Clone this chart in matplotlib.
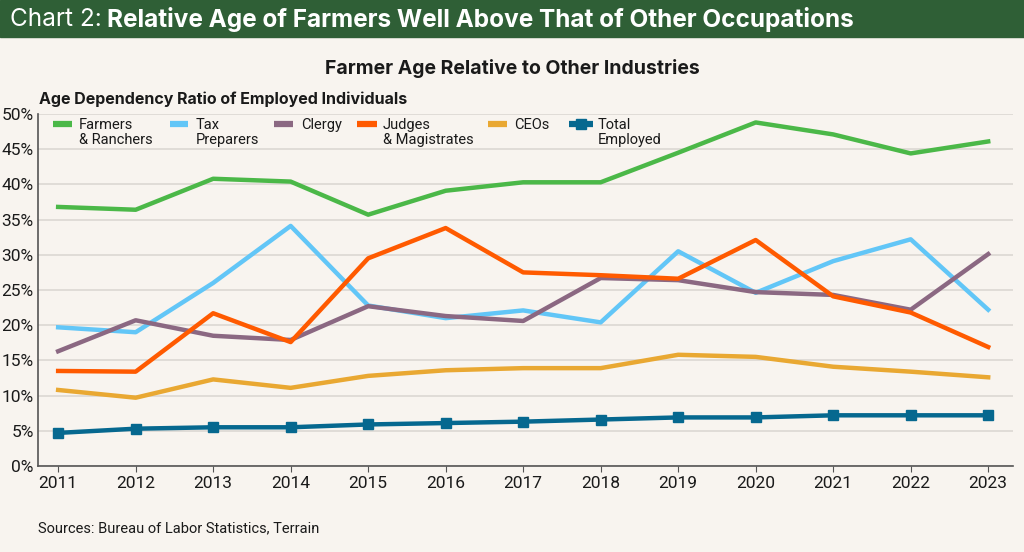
import matplotlib.pyplot as plt
from matplotlib.patches import Rectangle
from matplotlib.lines import Line2D
from matplotlib.ticker import FuncFormatter

plt.rcParams['font.family'] = ['Roboto', 'DejaVu Sans']

years = list(range(2011, 2024))
farmers = [36.8, 36.4, 40.8, 40.4, 35.7, 39.1, 40.3, 40.3, 44.5, 48.8, 47.1, 44.4, 46.1]
tax_preparers = [19.7, 19.0, 26.0, 34.1, 22.8, 21.0, 22.1, 20.4, 30.5, 24.6, 29.1, 32.2, 22.2]
clergy = [16.3, 20.7, 18.5, 17.9, 22.7, 21.3, 20.6, 26.7, 26.4, 24.7, 24.3, 22.2, 30.1]
judges = [13.5, 13.4, 21.7, 17.6, 29.5, 33.8, 27.5, 27.1, 26.6, 32.1, 24.1, 21.8, 16.9]
ceos = [10.8, 9.7, 12.3, 11.1, 12.8, 13.6, 13.9, 13.9, 15.8, 15.5, 14.1, 13.4, 12.6]
total = [4.7, 5.3, 5.5, 5.5, 5.9, 6.1, 6.3, 6.6, 6.9, 6.9, 7.2, 7.2, 7.2]

labels = ["Farmers\n& Ranchers", "Tax\nPreparers", "Clergy", "Judges\n& Magistrates",
          "CEOs", "Total\nEmployed"]
colors = ["#4bb848", "#62c6f7", "#8b6882", "#ff5a00", "#e9a832", "#06688f"]

W, H = 1024, 552
bg = "#f8f4ef"
ink = "#1a1a1a"
head_font = ["Inter", "DejaVu Sans"]
fig = plt.figure(figsize=(W / 100, H / 100), dpi=100, facecolor=bg)

# header band
fig.patches.append(Rectangle((0, 1 - 37 / H), 1, 37 / H, transform=fig.transFigure,
                             color="#2f5f36", zorder=0))
t1 = fig.text(10 / W, 1 - 19 / H, "Chart 2:", color="white", fontsize=17.5,
              va="center", family=head_font)
fig.canvas.draw()
x_end = t1.get_window_extent().x1 / W
fig.text(x_end + 5 / W, 1 - 19 / H,
         "Relative Age of Farmers Well Above That of Other Occupations",
         color="white", fontsize=17.5, fontweight="bold", va="center", family=head_font)

fig.text(0.5, 1 - 68 / H, "Farmer Age Relative to Other Industries",
         fontsize=14, fontweight="bold", ha="center", va="center", color=ink,
         family=head_font)
fig.text(39 / W, 1 - 99 / H, "Age Dependency Ratio of Employed Individuals",
         fontsize=11.5, fontweight="bold", ha="left", va="center", color=ink,
         family=head_font)
fig.text(38 / W, 1 - 528 / H, "Sources: Bureau of Labor Statistics, Terrain",
         fontsize=10.5, ha="left", va="center", color=ink)

ax = fig.add_axes([38 / W, 1 - 466 / H, (1013 - 38) / W, (466 - 114) / H])
ax.set_facecolor(bg)

series = [farmers, tax_preparers, clergy, judges, ceos, total]
for vals, c, lab in zip(series, colors, labels):
    if vals is total:
        ax.plot(years, vals, color=c, lw=3.2, marker="s", ms=7, label=lab, zorder=3)
    else:
        ax.plot(years, vals, color=c, lw=3.2, label=lab, zorder=3)

ax.set_xlim(2010.74, 2023.32)
ax.set_ylim(0, 50)
ax.set_xticks(years)
ax.set_yticks(range(0, 51, 5))
ax.yaxis.set_major_formatter(FuncFormatter(lambda v, p: f"{v:.0f}%"))
ax.grid(axis="y", color="#dcd8d3", lw=1.2)
ax.set_axisbelow(True)
for s in ["top", "right"]:
    ax.spines[s].set_visible(False)
for s in ["left", "bottom"]:
    ax.spines[s].set_color("#555555")
    ax.spines[s].set_linewidth(1.2)
ax.tick_params(axis="y", length=0, labelsize=12.5, pad=3, colors=ink)
ax.tick_params(axis="x", length=4, labelsize=12.5, colors=ink, color="#555555")

# legend drawn by hand: handle beside the first line of each label
handle_x = [(53, 72), (170, 188), (274, 293), (357, 377), (488, 507), (569, 593)]
text_x = [79, 196, 301, 383, 514, 598]
for (h0, h1), tx, c, lab in zip(handle_x, text_x, colors, labels):
    yy = 1 - 124 / H
    ln = Line2D([h0 / W, h1 / W], [yy, yy], transform=fig.transFigure, color=c, lw=4.5,
                solid_capstyle="butt")
    fig.lines.append(ln)
    if lab.startswith("Total"):
        fig.lines.append(Line2D([(h0 + h1) / 2 / W], [yy], transform=fig.transFigure,
                                color=c, marker="s", ms=7, lw=0))
    fig.text(tx / W, 1 - 118 / H, lab, fontsize=10.5, color=ink, va="top", ha="left",
             linespacing=1.05)

fig.savefig("out.png", dpi=100, facecolor=bg)
